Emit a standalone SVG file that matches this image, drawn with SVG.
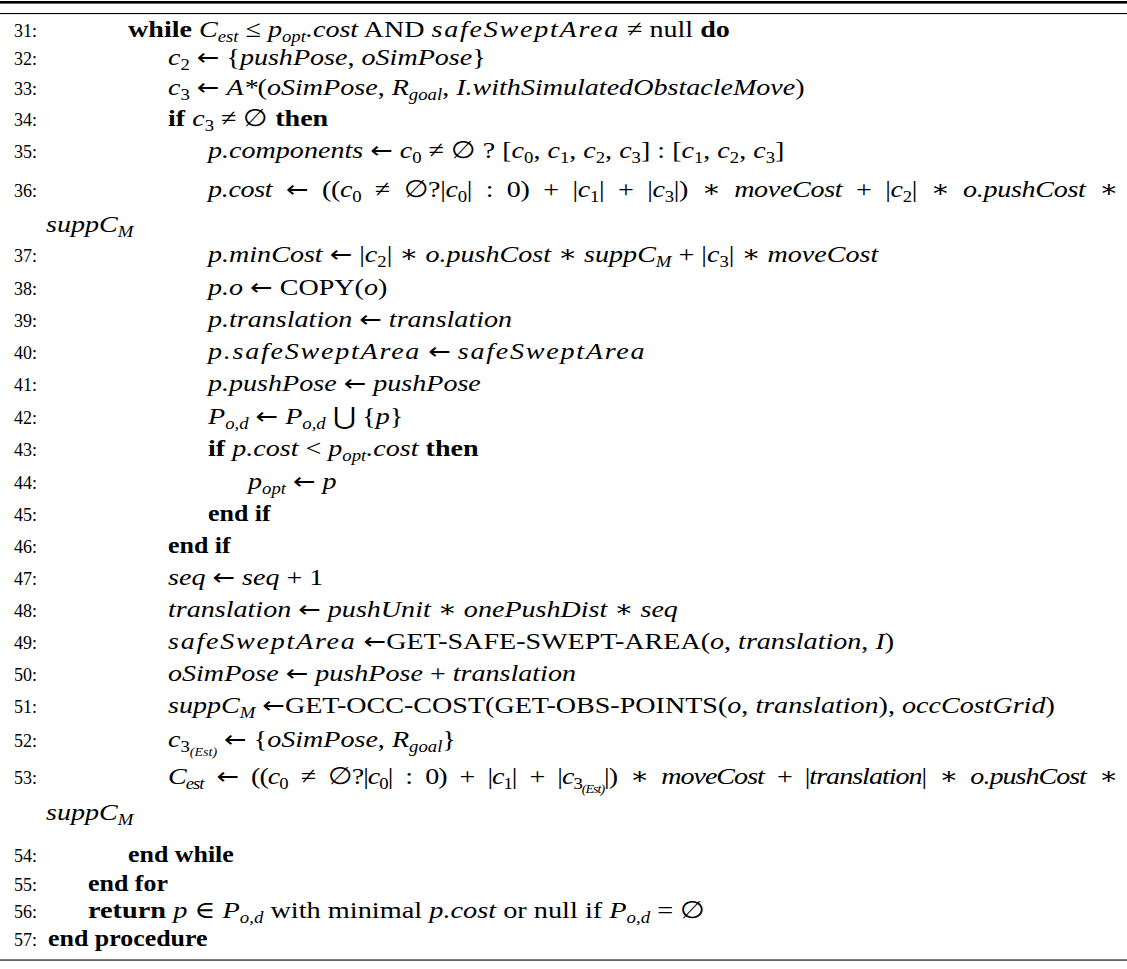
<svg xmlns="http://www.w3.org/2000/svg" width="1127" height="969" viewBox="0 0 1127 969">
<style>
.t{font-family:"Liberation Serif","DejaVu Serif",serif;font-size:24px;fill:#000}
.n{font-family:"Liberation Serif","DejaVu Serif",serif;font-size:18px;fill:#000;text-anchor:end}
.i{font-style:italic}
.b{font-weight:bold}
.s{font-size:16px}
.ss{font-size:12px}
.a{font-family:"DejaVu Sans",sans-serif;font-size:23px}
.j{word-spacing:6px}
.m{letter-spacing:1.5px}
.rule{fill:#000}
</style>
<rect width="1127" height="969" fill="#fff"/>
<g id="rules">
<rect class="rule" x="0" y="1" width="1127" height="2.6"/>
<rect class="rule" x="0" y="13" width="1127" height="1.1"/>
<rect class="rule" x="0" y="959.5" width="1127" height="1.1"/>
</g>
<g id="numbers">
<text class="n" x="37" y="37">31:</text>
<text class="n" x="37" y="65">32:</text>
<text class="n" x="37" y="95">33:</text>
<text class="n" x="37" y="126">34:</text>
<text class="n" x="37" y="158">35:</text>
<text class="n" x="37" y="197">36:</text>
<text class="n" x="37" y="262">37:</text>
<text class="n" x="37" y="295">38:</text>
<text class="n" x="37" y="327">39:</text>
<text class="n" x="37" y="359">40:</text>
<text class="n" x="37" y="391">41:</text>
<text class="n" x="37" y="424">42:</text>
<text class="n" x="37" y="456">43:</text>
<text class="n" x="37" y="489">44:</text>
<text class="n" x="37" y="521">45:</text>
<text class="n" x="37" y="553">46:</text>
<text class="n" x="37" y="585">47:</text>
<text class="n" x="37" y="617">48:</text>
<text class="n" x="37" y="649">49:</text>
<text class="n" x="37" y="681">50:</text>
<text class="n" x="37" y="713">51:</text>
<text class="n" x="37" y="747">52:</text>
<text class="n" x="37" y="784">53:</text>
<text class="n" x="37" y="862">54:</text>
<text class="n" x="37" y="891">55:</text>
<text class="n" x="37" y="918">56:</text>
<text class="n" x="37" y="946">57:</text>
</g>
<g id="line31" transform="translate(128,0) scale(1.17,1)"><text class="t" x="0" y="37"><tspan class="b">while</tspan> <tspan class="i">C</tspan><tspan class="i s" dy="5">est</tspan><tspan dy="-5"> ≤ </tspan><tspan class="i">p</tspan><tspan class="i s" dy="5">opt</tspan><tspan class="i" dy="-5">.cost</tspan> AND <tspan class="i m">safeSweptArea</tspan> ≠ null <tspan class="b">do</tspan></text></g>
<g id="line32" transform="translate(168,0) scale(1.17,1)"><text class="t" x="0" y="65"><tspan class="i">c</tspan><tspan class="s" dy="5">2</tspan><tspan dy="-5"> </tspan><tspan class="a">←</tspan> {<tspan class="i">pushPose</tspan>, <tspan class="i">oSimPose</tspan>}</text></g>
<g id="line33" transform="translate(168,0) scale(1.17,1)"><text class="t" x="0" y="95"><tspan class="i">c</tspan><tspan class="s" dy="5">3</tspan><tspan dy="-5"> </tspan><tspan class="a">←</tspan> <tspan class="i">A*</tspan>(<tspan class="i">oSimPose</tspan>, <tspan class="i">R</tspan><tspan class="i s" dy="5">goal</tspan><tspan dy="-5">, </tspan><tspan class="i">I.withSimulatedObstacleMove</tspan>)</text></g>
<g id="line34" transform="translate(168,0) scale(1.17,1)"><text class="t" x="0" y="126"><tspan class="b">if</tspan> <tspan class="i">c</tspan><tspan class="s" dy="5">3</tspan><tspan dy="-5"> ≠ ∅ </tspan><tspan class="b">then</tspan></text></g>
<g id="line35" transform="translate(208,0) scale(1.17,1)"><text class="t" x="0" y="158"><tspan class="i">p.components</tspan> <tspan class="a">←</tspan> <tspan class="i">c</tspan><tspan class="s" dy="5">0</tspan><tspan dy="-5"> ≠ ∅ ? [</tspan><tspan class="i">c</tspan><tspan class="s" dy="5">0</tspan><tspan dy="-5">, </tspan><tspan class="i">c</tspan><tspan class="s" dy="5">1</tspan><tspan dy="-5">, </tspan><tspan class="i">c</tspan><tspan class="s" dy="5">2</tspan><tspan dy="-5">, </tspan><tspan class="i">c</tspan><tspan class="s" dy="5">3</tspan><tspan dy="-5">] : [</tspan><tspan class="i">c</tspan><tspan class="s" dy="5">1</tspan><tspan dy="-5">, </tspan><tspan class="i">c</tspan><tspan class="s" dy="5">2</tspan><tspan dy="-5">, </tspan><tspan class="i">c</tspan><tspan class="s" dy="5">3</tspan><tspan dy="-5">]</tspan></text></g>
<g id="line36"><g transform="translate(208,0) scale(1.17,1)"><text class="t j" x="0" y="197" textLength="778" lengthAdjust="spacing"><tspan class="i">p.cost</tspan> <tspan class="a">←</tspan> ((<tspan class="i">c</tspan><tspan class="s" dy="5">0</tspan><tspan dy="-5"> ≠ ∅?|</tspan><tspan class="i">c</tspan><tspan class="s" dy="5">0</tspan><tspan dy="-5">| : 0) + |</tspan><tspan class="i">c</tspan><tspan class="s" dy="5">1</tspan><tspan dy="-5">| + |</tspan><tspan class="i">c</tspan><tspan class="s" dy="5">3</tspan><tspan dy="-5">|) ∗ </tspan><tspan class="i">moveCost</tspan> + |<tspan class="i">c</tspan><tspan class="s" dy="5">2</tspan><tspan dy="-5">| ∗ </tspan><tspan class="i">o.pushCost</tspan> ∗</text></g>
<g transform="translate(46,0) scale(1.17,1)"><text class="t" x="0" y="232"><tspan class="i">suppC</tspan><tspan class="i s" dy="5">M</tspan></text></g></g>
<g id="line37" transform="translate(208,0) scale(1.17,1)"><text class="t" x="0" y="262"><tspan class="i">p.minCost</tspan> <tspan class="a">←</tspan> |<tspan class="i">c</tspan><tspan class="s" dy="5">2</tspan><tspan dy="-5">| ∗ </tspan><tspan class="i">o.pushCost</tspan> ∗ <tspan class="i">suppC</tspan><tspan class="i s" dy="5">M</tspan><tspan dy="-5"> + |</tspan><tspan class="i">c</tspan><tspan class="s" dy="5">3</tspan><tspan dy="-5">| ∗ </tspan><tspan class="i">moveCost</tspan></text></g>
<g id="line38" transform="translate(208,0) scale(1.17,1)"><text class="t" x="0" y="295"><tspan class="i">p.o</tspan> <tspan class="a">←</tspan> COPY(<tspan class="i">o</tspan>)</text></g>
<g id="line39" transform="translate(208,0) scale(1.17,1)"><text class="t" x="0" y="327"><tspan class="i">p.translation</tspan> <tspan class="a">←</tspan> <tspan class="i">translation</tspan></text></g>
<g id="line40" transform="translate(208,0) scale(1.17,1)"><text class="t" x="0" y="359"><tspan class="i m">p.safeSweptArea</tspan> <tspan class="a">←</tspan> <tspan class="i m">safeSweptArea</tspan></text></g>
<g id="line41" transform="translate(208,0) scale(1.17,1)"><text class="t" x="0" y="391"><tspan class="i">p.pushPose</tspan> <tspan class="a">←</tspan> <tspan class="i">pushPose</tspan></text></g>
<g id="line42" transform="translate(208,0) scale(1.17,1)"><text class="t" x="0" y="424"><tspan class="i">P</tspan><tspan class="i s" dy="5">o,d</tspan><tspan dy="-5"> </tspan><tspan class="a">←</tspan> <tspan class="i">P</tspan><tspan class="i s" dy="5">o,d</tspan><tspan dy="-5"> ⋃ {</tspan><tspan class="i">p</tspan>}</text></g>
<g id="line43" transform="translate(208,0) scale(1.17,1)"><text class="t" x="0" y="456"><tspan class="b">if</tspan> <tspan class="i">p.cost</tspan> &lt; <tspan class="i">p</tspan><tspan class="i s" dy="5">opt</tspan><tspan class="i" dy="-5">.cost</tspan> <tspan class="b">then</tspan></text></g>
<g id="line44" transform="translate(248,0) scale(1.17,1)"><text class="t" x="0" y="489"><tspan class="i">p</tspan><tspan class="i s" dy="5">opt</tspan><tspan dy="-5"> </tspan><tspan class="a">←</tspan> <tspan class="i">p</tspan></text></g>
<g id="line45" transform="translate(208,0) scale(1.08,1)"><text class="t b" x="0" y="521">end if</text></g>
<g id="line46" transform="translate(168,0) scale(1.08,1)"><text class="t b" x="0" y="553">end if</text></g>
<g id="line47" transform="translate(168,0) scale(1.17,1)"><text class="t" x="0" y="585"><tspan class="i">seq</tspan> <tspan class="a">←</tspan> <tspan class="i">seq</tspan> + 1</text></g>
<g id="line48" transform="translate(168,0) scale(1.17,1)"><text class="t" x="0" y="617"><tspan class="i">translation</tspan> <tspan class="a">←</tspan> <tspan class="i">pushUnit</tspan> ∗ <tspan class="i">onePushDist</tspan> ∗ <tspan class="i">seq</tspan></text></g>
<g id="line49" transform="translate(168,0) scale(1.17,1)"><text class="t" x="0" y="649"><tspan class="i m">safeSweptArea</tspan> <tspan class="a">←</tspan>GET-SAFE-SWEPT-AREA(<tspan class="i">o</tspan>, <tspan class="i">translation</tspan>, <tspan class="i">I</tspan>)</text></g>
<g id="line50" transform="translate(168,0) scale(1.17,1)"><text class="t" x="0" y="681"><tspan class="i">oSimPose</tspan> <tspan class="a">←</tspan> <tspan class="i">pushPose</tspan> + <tspan class="i">translation</tspan></text></g>
<g id="line51" transform="translate(168,0) scale(1.17,1)"><text class="t" x="0" y="713"><tspan class="i">suppC</tspan><tspan class="i s" dy="5">M</tspan><tspan dy="-5"> </tspan><tspan class="a">←</tspan>GET-OCC-COST(GET-OBS-POINTS(<tspan class="i">o</tspan>, <tspan class="i">translation</tspan>), <tspan class="i">occCostGrid</tspan>)</text></g>
<g id="line52" transform="translate(168,0) scale(1.17,1)"><text class="t" x="0" y="747"><tspan class="i">c</tspan><tspan class="s" dy="5">3</tspan><tspan class="i ss" dy="4">(Est)</tspan><tspan dy="-9"> </tspan><tspan class="a">←</tspan> {<tspan class="i">oSimPose</tspan>, <tspan class="i">R</tspan><tspan class="i s" dy="5">goal</tspan><tspan dy="-5">}</tspan></text></g>
<g id="line53"><g transform="translate(168,0) scale(1.17,1)"><text class="t j" x="0" y="784" textLength="812" lengthAdjust="spacing"><tspan class="i">C</tspan><tspan class="i s" dy="5">est</tspan><tspan dy="-5"> </tspan><tspan class="a">←</tspan> ((<tspan class="i">c</tspan><tspan class="s" dy="5">0</tspan><tspan dy="-5"> ≠ ∅?|</tspan><tspan class="i">c</tspan><tspan class="s" dy="5">0</tspan><tspan dy="-5">| : 0) + |</tspan><tspan class="i">c</tspan><tspan class="s" dy="5">1</tspan><tspan dy="-5">| + |</tspan><tspan class="i">c</tspan><tspan class="s" dy="5">3</tspan><tspan class="i ss" dy="4">(Est)</tspan><tspan dy="-9">|) ∗ </tspan><tspan class="i">moveCost</tspan> + |<tspan class="i">translation</tspan>| ∗ <tspan class="i">o.pushCost</tspan> ∗</text></g>
<g transform="translate(46,0) scale(1.17,1)"><text class="t" x="0" y="820"><tspan class="i">suppC</tspan><tspan class="i s" dy="5">M</tspan></text></g></g>
<g id="line54" transform="translate(128,0) scale(1.08,1)"><text class="t b" x="0" y="862">end while</text></g>
<g id="line55" transform="translate(88,0) scale(1.08,1)"><text class="t b" x="0" y="891">end for</text></g>
<g id="line56" transform="translate(88,0) scale(1.18,1)"><text class="t" x="0" y="918"><tspan class="b">return</tspan> <tspan class="i">p</tspan> ∈ <tspan class="i">P</tspan><tspan class="i s" dy="5">o,d</tspan><tspan dy="-5"> with minimal </tspan><tspan class="i">p.cost</tspan> or null if <tspan class="i">P</tspan><tspan class="i s" dy="5">o,d</tspan><tspan dy="-5"> = ∅</tspan></text></g>
<g id="line57" transform="translate(48,0) scale(1.08,1)"><text class="t b" x="0" y="946">end procedure</text></g>
</svg>
